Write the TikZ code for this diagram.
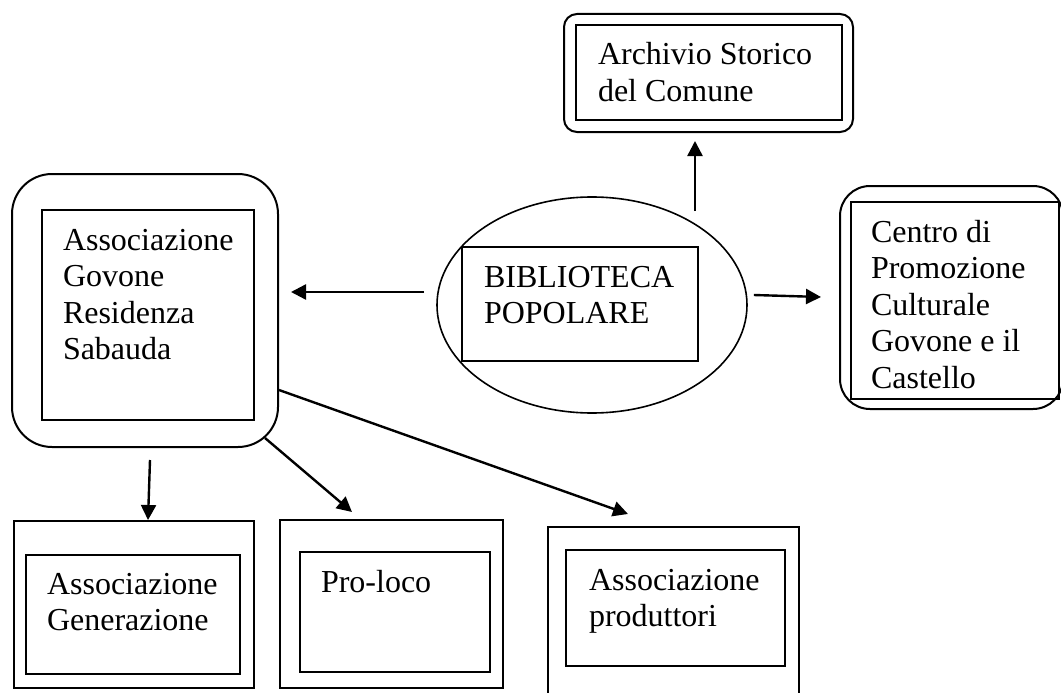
\documentclass[tikz,border=0pt]{standalone}
\usepackage{fontspec}
\setmainfont{Liberation Serif}
\usepackage{tikz}
\usetikzlibrary{arrows.meta}
\usetikzlibrary{shapes}
\usetikzlibrary{positioning}

\begin{document}
\begin{tikzpicture}[x=1pt, y=-1pt, line width=2pt,
			outer/.style={draw, rectangle, inner sep=0pt},
			inner/.style={draw, rectangle, inner sep=0pt, line width=1.8pt},
			label/.style={anchor=base west, inner sep=0pt, align=left, font=\fontsize{32}{36.5}\selectfont},
			link/.style={->, >={Triangle[length=15pt, width=15pt]}, line width=2.4pt}]
			\useasboundingbox (0, 0) rectangle (1061, 693);

			% Archivio
			\node[outer, rounded corners=13pt, minimum width=289pt, minimum height=118pt](node1) at (708.5, 73) {};
			\node[inner, minimum width=266pt, minimum height=95pt](node2) at (709, 72.5) {};
			\node[label](text1) at (597, 101.5) {Archivio Storico \\ del Comune};

			% Associazione Govone
			\node[outer, rounded corners=40pt, minimum width=266pt, minimum height=273pt](node3) at (145, 310.5) {};
			\node[inner, minimum width=212pt, minimum height=210pt](node4) at (148, 315) {};
			\node[label](text2) at (62, 359.5) {Associazione \\ Govone \\ Residenza \\ Sabauda};

			% Biblioteca
			\node[ellipse, draw, line width=1.6pt, minimum width=310pt, minimum height=216pt](node5) at (592, 305) {};
			\node[inner, minimum width=236pt, minimum height=114pt](node6) at (580, 304) {};
			\node[label](text3) at (483, 323.5) {BIBLIOTECA \\ POPOLARE};

			% Centro di Promozione
			\node[outer, rounded corners=30pt, minimum width=223pt, minimum height=223pt](node7) at (951.5, 297.5) {};
			\node[inner, minimum width=208pt, minimum height=197pt](node8) at (955, 300.5) {};
			\node[label](text4) at (870, 388) {Centro di \\ Promozione \\ Culturale \\ Govone e il \\ Castello};

			% bottom row
			\node[outer, minimum width=240pt, minimum height=167pt](node9) at (134, 604.5) {};
			\node[inner, minimum width=214pt, minimum height=119pt](node10) at (133, 614.5) {};
			\node[label](text5) at (46, 630.5) {Associazione \\ Generazione};

			\node[outer, minimum width=223pt, minimum height=168pt](node11) at (391.5, 604) {};
			\node[inner, minimum width=190pt, minimum height=120pt](node12) at (395, 612) {};
			\node[label](text6) at (320, 592) {Pro-loco};

			\node[outer, minimum width=251pt, minimum height=183pt](node13) at (673.5, 618.5) {};
			\node[inner, minimum width=219pt, minimum height=116pt](node14) at (675.5, 608) {};
			\node[label](text7) at (588, 626.5) {Associazione \\ produttori};

			\draw[link] ([xshift=103pt, yshift=-15pt]node5.north) -- ([xshift=-13.5pt, yshift=-8pt]node1.south);
			\draw[link] ([xshift=-12pt, yshift=13pt]node5.west) -- ([xshift=12pt, yshift=18.5pt]node3.east);
			\draw[link] ([xshift=6pt, yshift=10pt]node5.east) -- ([xshift=-18pt, yshift=0.5pt]node7.west);
			\draw[link] ([xshift=5pt, yshift=-12pt]node3.south) -- ([xshift=14pt]node9.north);
			\draw[link] ([xshift=-14pt, yshift=10pt]node3.south east) -- ([xshift=-39.5pt, yshift=7pt]node11.north);
			\draw[link] ([yshift=-79.5pt]node3.east) -- ([xshift=-45.5pt, yshift=12pt]node13.north);
\end{tikzpicture}
\end{document}
